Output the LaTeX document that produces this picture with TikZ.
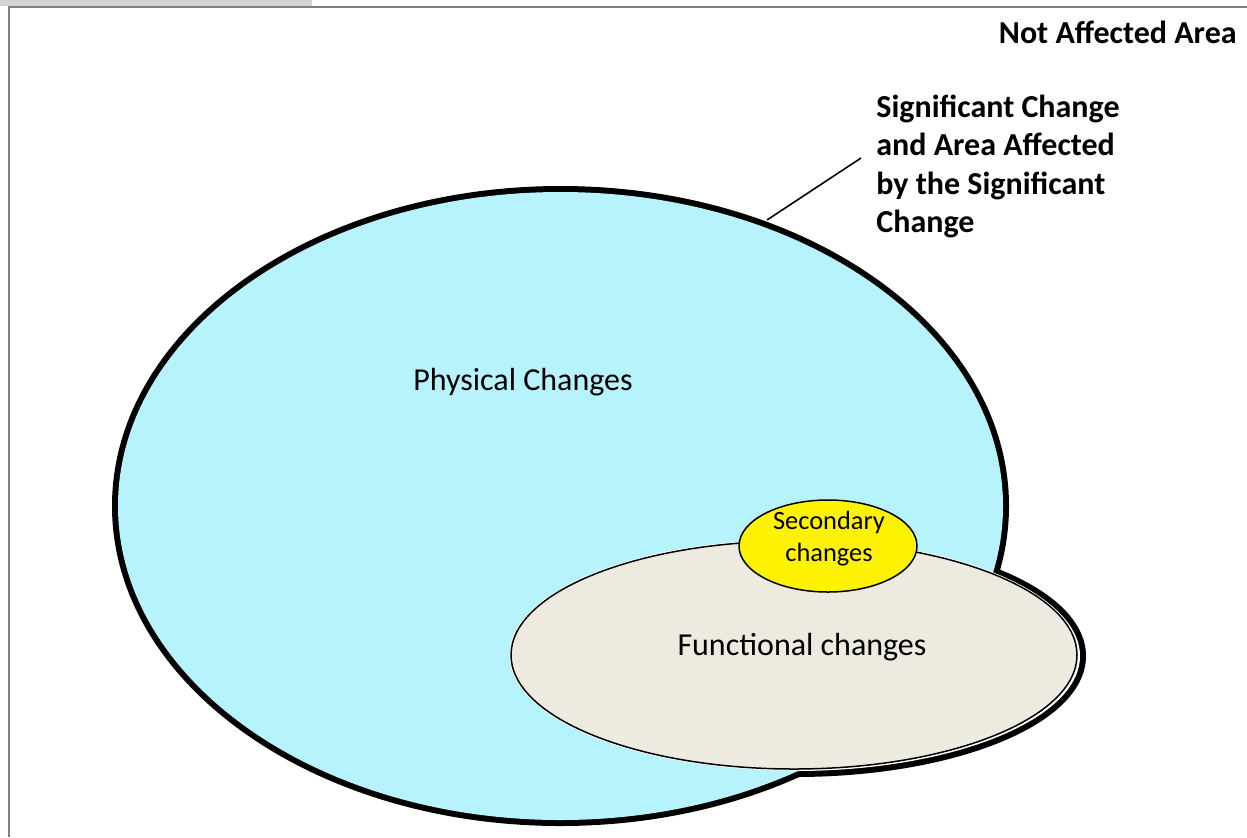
\documentclass[tikz,border=0pt]{standalone}
\usepackage{fontspec}
\setmainfont{Carlito}
\definecolor{physcyan}{HTML}{B7F3FC}
\definecolor{funcbeige}{HTML}{EDEAE0}
\definecolor{framegray}{HTML}{808080}
\definecolor{bargray}{HTML}{D3D3D3}
\tikzset{
  outline/.style={draw=black, line width=6pt},
  label/.style={inner sep=0pt, font=\fontsize{16}{19.25}\selectfont},
  boldlabel/.style={label, font=\fontsize{16}{19.25}\selectfont\bfseries}
}
\begin{document}
\begin{tikzpicture}[x=0.5pt, y=-0.5pt]
        \useasboundingbox (0,0) rectangle (1247,837);

        % Frame of the page
        \fill[bargray] (0,0) rectangle (312,6);
        \draw[framegray, line width=1pt] (1247,7) -- (8.5,7) -- (8.5,837);

        % Centres of the areas
        \coordinate (physC) at (560.5,506);
        \coordinate (backC) at (795,656);
        \coordinate (funcC) at (794,655);
        \coordinate (secC) at (828,546);

        % Thick outline of the significant change area
        \draw[outline] (physC) ellipse [x radius=442.5, y radius=314];
        \draw[outline] (backC) ellipse [x radius=285, y radius=115];
        \fill[white] (backC) ellipse [x radius=285, y radius=115];
        \fill[physcyan] (physC) ellipse [x radius=442.5, y radius=314];

        % Functional and secondary changes
        \draw[white, line width=1.5pt] (funcC) ellipse [x radius=283, y radius=114];
        \filldraw[fill=funcbeige, draw=black, line width=0.75pt] (funcC) ellipse [x radius=283, y radius=114];
        \filldraw[fill=yellow, draw=black, line width=0.75pt] (secC) ellipse [x radius=89, y radius=46];

        % Labels
        \node[label] (phys) at (523,382) {Physical Changes};
        \node[label] (func) at (802,647) {Functional changes};
        \node[label, align=center, font=\fontsize{13.2}{16}\selectfont] (sec) at (829,538.5) {Secondary\\changes};
        \node[boldlabel, anchor=east] (notaff) at (1237,32) {Not Affected Area};
        \node[boldlabel, anchor=west, align=left] (sig) at (876,166.5)
            {Significant Change\\and Area Affected\\by the Significant\\Change};

        % Leader line to the outline
        \coordinate (sigTip) at (767,220);
        \draw[line width=0.8pt] (sigTip) -- ([shift={(-15,-8.5)}]sig.west);
    \end{tikzpicture}
\end{document}
